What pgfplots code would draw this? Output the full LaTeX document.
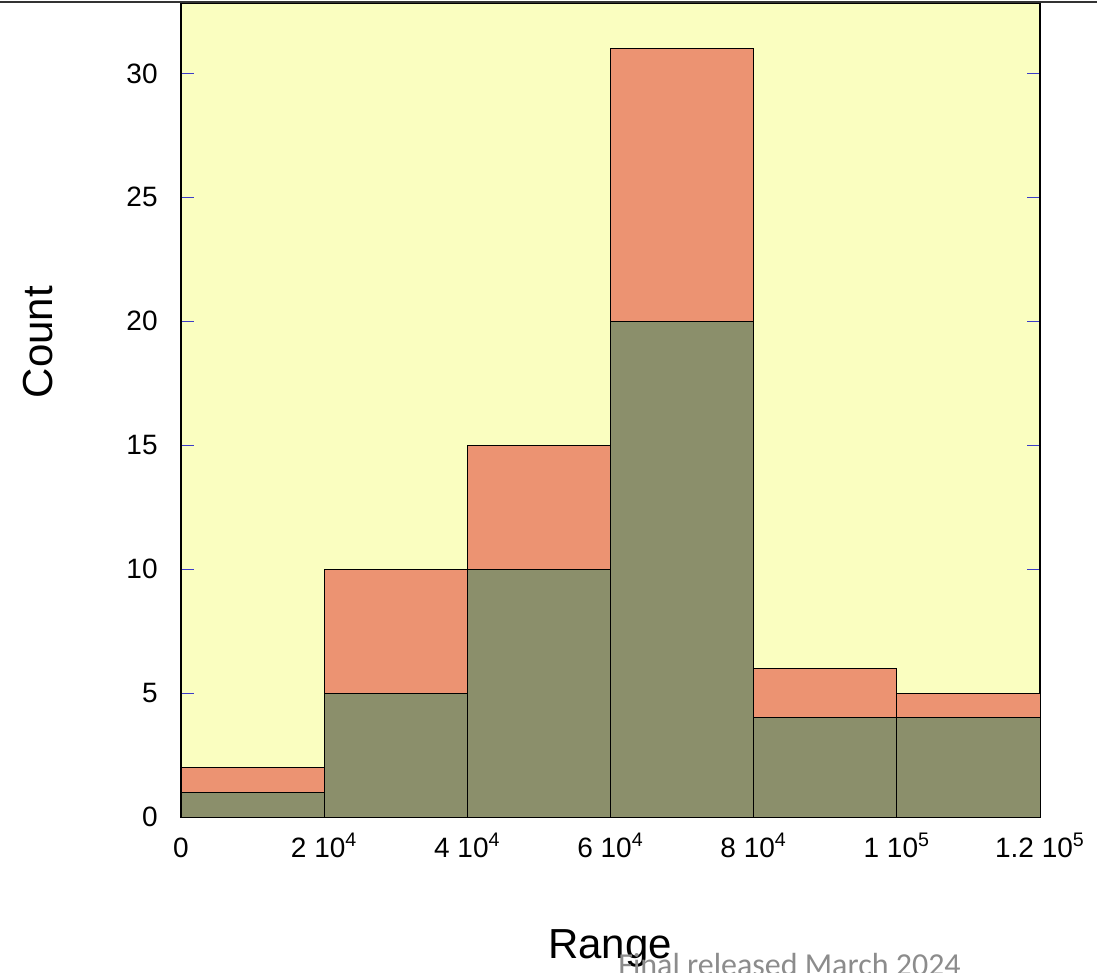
\documentclass[border=0pt]{standalone}
\usepackage{pgfplots}
\pgfplotsset{compat=1.18}
\usepackage{fontspec}
\setmainfont{Liberation Sans}
\newfontfamily\calibri{Carlito}
\definecolor{bgyellow}{RGB}{250,254,192}
\definecolor{barorange}{RGB}{236,147,114}
\definecolor{bargreen}{RGB}{139,143,107}
\definecolor{tickblue}{RGB}{60,60,200}
\begin{document}
\begin{tikzpicture}
\path[use as bounding box] (0,0) rectangle (548.5pt,-486.5pt);
\clip (0,0) rectangle (548.5pt,-486.5pt);
\begin{axis}[
  at={(90.5pt,-408.5pt)}, anchor=south west,
  scale only axis, width=429.5pt, height=407pt,
  xmin=0, xmax=120000, ymin=0, ymax=32.84,
  scaled x ticks=false,
  axis background/.style={fill=bgyellow},
  axis line style={black, line width=0.6pt},
  xtick={0,20000,40000,60000,80000,100000,120000},
  xticklabels={0, 2 10\textsuperscript{4}, 4 10\textsuperscript{4}, 6 10\textsuperscript{4}, 8 10\textsuperscript{4}, 1 10\textsuperscript{5}, 1.2 10\textsuperscript{5}},
  ytick={0,5,10,15,20,25,30},
  xtick style={draw=none},
  ytick style={tickblue, line width=0.5pt},
  tick align=inside, major tick length=6.5pt,
  ticklabel style={font=\fontsize{14}{14}\selectfont, inner sep=0pt},
  xticklabel style={anchor=north, text height=10pt, text depth=0pt, yshift=-10pt},
  yticklabel style={anchor=east, xshift=-11.5pt},
  /pgf/number format/assume math mode=true,
  clip=false,
]
\addplot[ybar interval, fill=barorange, draw=black, line width=0.5pt] coordinates {
  (0,2) (20000,10) (40000,15) (60000,31) (80000,6) (100000,5) (120000,5)};
\addplot[ybar interval, fill=bargreen, draw=black, line width=0.5pt] coordinates {
  (0,1) (20000,5) (40000,10) (60000,20) (80000,4) (100000,4) (120000,4)};
\end{axis}
\draw[line width=1pt, black!80] (0,-1pt) -- (548.5pt,-1pt);
\node[rotate=90, anchor=base, inner sep=0pt, font=\fontsize{21}{21}\selectfont] at (26pt,-171pt) {Count};
\node[anchor=base, inner sep=0pt, font=\fontsize{21}{21}\selectfont] at (305pt,-479pt) {Range};
\node[anchor=base west, inner sep=0pt, text=black!45, font=\calibri\fontsize{16}{16}\selectfont] at (309pt,-487.6pt) {Final released March 2024};
\end{tikzpicture}
\end{document}
